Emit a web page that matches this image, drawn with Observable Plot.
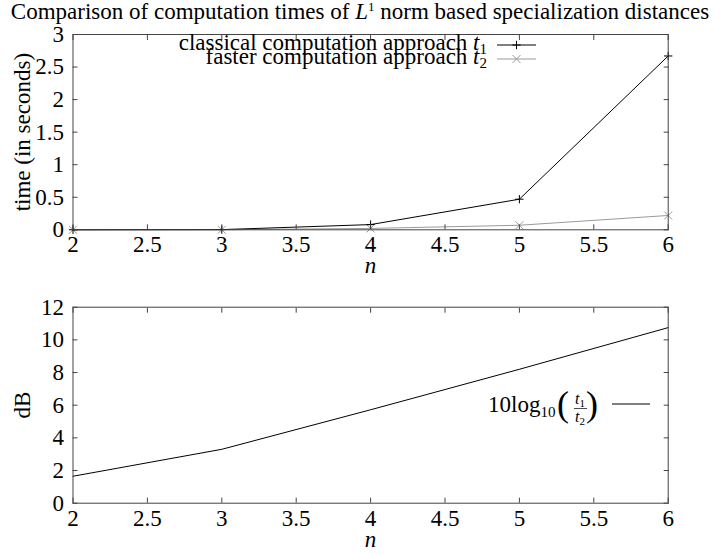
<!DOCTYPE html>
<html><head><meta charset="utf-8">
<script src="https://cdn.jsdelivr.net/npm/d3@7"></script>
<script src="https://cdn.jsdelivr.net/npm/@observablehq/plot@0.6"></script>
<style>
body{margin:0;background:#fff;}
#title{height:24px;line-height:24px;text-align:center;font-size:23px;font-family:"Liberation Serif","Times New Roman",serif;white-space:nowrap;color:#000;}
#title sup{font-size:13px;vertical-align:8px;line-height:0;}
#wrap{position:absolute;left:0;top:24px;}
svg{display:block;}
#wrap svg, #wrap svg text, #wrap svg tspan{font-family:"Liberation Serif","Times New Roman",serif !important;font-variant:normal !important;}
</style></head><body>
<div id="title">Comparison of computation times of <i>L</i><sup>1</sup> norm based specialization distances</div>
<div id="wrap"></div>
<script>
// data
const n = [2, 3, 4, 5, 6];
const t1 = [0.0004, 0.003, 0.08, 0.47, 2.67];   // classical computation approach (s)
const t2 = [0.0003, 0.0014, 0.021, 0.07, 0.22]; // faster computation approach (s)
const dB = [1.65, 3.3, 5.72, 8.2, 10.75];       // 10 log10(t1/t2)
const xTicks = [2, 2.5, 3, 3.5, 4, 4.5, 5, 5.5, 6];
const yTicksTop = [0, 0.5, 1, 1.5, 2, 2.5, 3];
const yTicksBottom = [0, 2, 4, 6, 8, 10, 12];

const font = "Liberation Serif, Times New Roman, serif";
const fs = 23;
const frameColor = "#444";
const fmt = d => String(d);
const svgStyle = `font-family:${font};font-size:${fs}px;background:white;color:black;overflow:visible;`;

function axes(yTicks) {
  return [
    Plot.axisX(xTicks, {anchor: "bottom", tickSize: -5, fill: "none", stroke: frameColor, label: null}),
    Plot.axisX(xTicks, {anchor: "top", tickSize: -5, fill: "none", stroke: frameColor, label: null}),
    Plot.axisY(yTicks, {anchor: "left", tickSize: -5, fill: "none", stroke: frameColor, label: null}),
    Plot.axisY(yTicks, {anchor: "right", tickSize: -5, fill: "none", stroke: frameColor, label: null}),
    Plot.axisX(xTicks, {anchor: "bottom", tickSize: 0, tickPadding: 6, tickFormat: fmt, label: null, fill: "black", fontFamily: font, fontSize: fs, fontVariant: "normal"}),
    Plot.axisY(yTicks, {anchor: "left", tickSize: 0, tickPadding: 9, tickFormat: fmt, label: null, fill: "black", fontFamily: font, fontSize: fs, fontVariant: "normal"}),
    Plot.frame({stroke: frameColor})
  ];
}
function labels(yLabel) {
  return [
    Plot.text(["n"], {text: d => d, frameAnchor: "bottom", lineAnchor: "middle", dy: 36, fontStyle: "italic", fill: "black", fontFamily: font, fontSize: fs}),
    Plot.text([yLabel], {text: d => d, frameAnchor: "left", textAnchor: "middle", lineAnchor: "middle", dx: -50, rotate: -90, fill: "black", fontFamily: font, fontSize: fs})
  ];
}

const topData = n.map((v, i) => ({n: v, t1: t1[i], t2: t2[i]}));
const bottomData = n.map((v, i) => ({n: v, dB: dB[i]}));

const topPlot = Plot.plot({
  width: 720, height: 260,
  marginTop: 10, marginBottom: 54.7, marginLeft: 72.5, marginRight: 52.3,
  style: svgStyle,
  x: {domain: [2, 6]},
  y: {domain: [0, 3]},
  marks: [
    Plot.line(topData, {x: "n", y: "t2", stroke: "#9a9a9a", strokeWidth: 1}),
    Plot.dot(topData, {x: "n", y: "t2", symbol: "times", r: 3.7, stroke: "#9a9a9a", strokeWidth: 1}),
    Plot.line(topData, {x: "n", y: "t1", stroke: "black", strokeWidth: 1}),
    Plot.dot(topData, {x: "n", y: "t1", symbol: "plus", r: 2.8, stroke: "black", strokeWidth: 1}),
    ...axes(yTicksTop),
    ...labels("time (in seconds)")
  ]
});

const bottomPlot = Plot.plot({
  width: 720, height: 270,
  marginTop: 22.7, marginBottom: 51.3, marginLeft: 72.5, marginRight: 52.3,
  style: svgStyle,
  x: {domain: [2, 6]},
  y: {domain: [0, 12]},
  marks: [
    Plot.line(bottomData, {x: "n", y: "dB", stroke: "black", strokeWidth: 1}),
    ...axes(yTicksBottom),
    ...labels("dB")
  ]
});

const wrap = document.getElementById("wrap");
wrap.appendChild(topPlot);
wrap.appendChild(bottomPlot);

// legend, top panel
const tsym = d3.symbol(d3.symbolTimes, Math.PI * 3.7 * 3.7)();
const psym = d3.symbol(d3.symbolPlus, Math.PI * 2.8 * 2.8)();
const lg = d3.select(topPlot).append("g").attr("font-size", fs).attr("fill", "black");
function legendRow(g, y, label, sub, color, sym) {
  const t = g.append("text").attr("x", 487).attr("y", y).attr("text-anchor", "end");
  t.append("tspan").text(label);
  t.append("tspan").attr("font-style", "italic").text("t");
  t.append("tspan").attr("font-size", 15).attr("dy", 4).text(sub);
  g.append("line").attr("x1", 497).attr("x2", 536).attr("y1", y - 5).attr("y2", y - 5)
    .attr("stroke", color).attr("stroke-width", 1);
  g.append("path").attr("d", sym).attr("transform", `translate(516.5,${y - 5})`)
    .attr("fill", "none").attr("stroke", color).attr("stroke-width", 1);
}
legendRow(lg, 26, "classical computation approach ", "1", "black", psym);
legendRow(lg, 40, "faster computation approach ", "2", "#9a9a9a", tsym);

// legend, bottom panel
const bg = d3.select(bottomPlot).append("g").attr("fill", "black").attr("text-anchor", "start");
const main = bg.append("text").attr("x", 488).attr("y", 128).attr("font-size", fs).attr("text-anchor", "start");
main.append("tspan").text("10log");
main.append("tspan").attr("font-size", 15).attr("dy", 5).text("10");
bg.append("text").attr("x", 557).attr("y", 132).attr("font-size", 36).attr("text-anchor", "start").text("(");
bg.append("text").attr("x", 598).attr("y", 132).attr("font-size", 36).attr("text-anchor", "end").text(")");
const f1 = bg.append("text").attr("x", 580).attr("y", 120).attr("font-size", 16).attr("text-anchor", "middle");
f1.append("tspan").attr("font-style", "italic").text("t");
f1.append("tspan").attr("font-size", 11).attr("dy", 3).text("1");
const f2 = bg.append("text").attr("x", 580).attr("y", 138).attr("font-size", 16).attr("text-anchor", "middle");
f2.append("tspan").attr("font-style", "italic").text("t");
f2.append("tspan").attr("font-size", 11).attr("dy", 3).text("2");
bg.append("line").attr("x1", 574).attr("x2", 587).attr("y1", 124.5).attr("y2", 124.5).attr("stroke", "black").attr("stroke-width", 0.7);
bg.append("line").attr("x1", 612).attr("x2", 650).attr("y1", 120).attr("y2", 120).attr("stroke", "black").attr("stroke-width", 1);
</script>
</body></html>
